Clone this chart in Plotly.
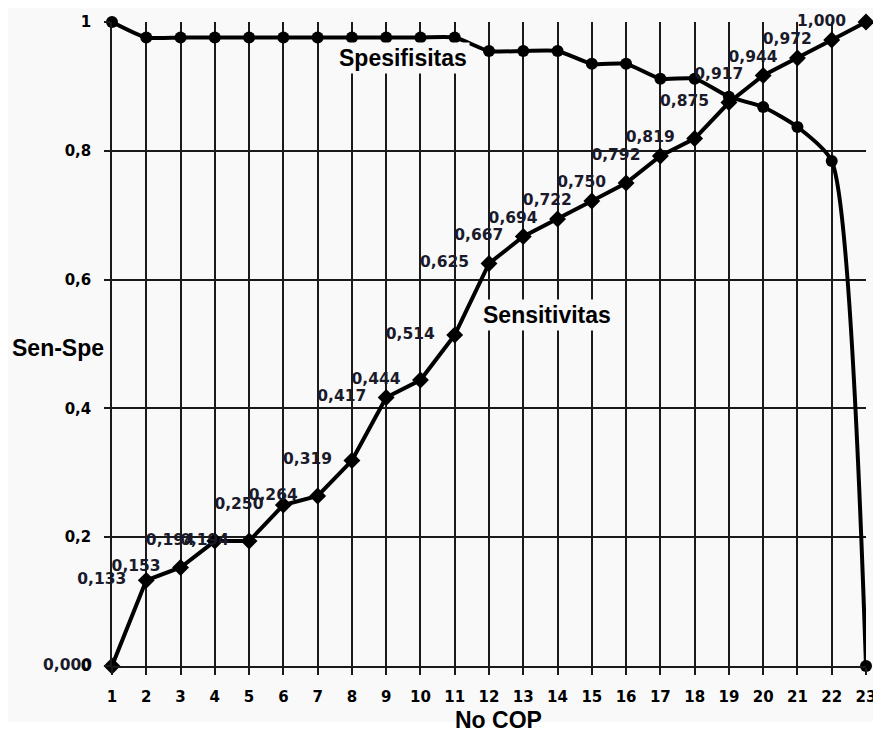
import plotly.graph_objects as go

cop = list(range(1, 24))
sensitivitas = [0.000, 0.133, 0.153, 0.194, 0.194, 0.250, 0.264, 0.319, 0.417, 0.444,
                0.514, 0.625, 0.667, 0.694, 0.722, 0.750, 0.792, 0.819, 0.875, 0.917,
                0.944, 0.972, 1.000]
spesifisitas = [1.000, 0.976, 0.976, 0.976, 0.976, 0.976, 0.976, 0.976, 0.976, 0.976,
                0.976, 0.955, 0.955, 0.955, 0.935, 0.935, 0.912, 0.912, 0.884, 0.868,
                0.837, 0.784, 0.000]
y_ticks = [0, 0.2, 0.4, 0.6, 0.8, 1]

BG = "#f9f9f9"
GRID = "#1a1a1a"

fig = go.Figure()

fig.add_trace(go.Scatter(
    x=cop, y=spesifisitas, mode="lines+markers", name="Spesifisitas",
    line=dict(color="black", width=4, shape="spline", smoothing=0.6),
    marker=dict(symbol="circle", size=12, color="black"),
    cliponaxis=False, showlegend=False,
))

fig.add_trace(go.Scatter(
    x=cop, y=sensitivitas, mode="lines+markers+text", name="Sensitivitas",
    line=dict(color="black", width=4),
    marker=dict(symbol="diamond", size=13, color="black"),
    texttemplate="%{y:.3f}\u00a0\u00a0", textposition="middle left",
    textfont=dict(family="DejaVu Sans", size=15.5, color="#1a1a2a", weight=600),
    cliponaxis=False, showlegend=False,
))

fig.update_layout(
    width=873, height=723,
    margin=dict(l=104, r=5, t=14, b=65),
    paper_bgcolor="white",
    plot_bgcolor=BG,
    separators=",.",
    font=dict(family="DejaVu Sans", color="black"),
    xaxis=dict(
        range=[1, 23], tickmode="array", tickvals=cop,
        showgrid=True, gridcolor=GRID, gridwidth=1.5,
        showline=True, linecolor=GRID, linewidth=1.5,
        zeroline=False,
        ticks="outside", ticklen=7, tickwidth=1.5, tickcolor=GRID,
        tickfont=dict(family="DejaVu Sans", size=15, color="black", weight="bold"),
        ticklabelstandoff=9, ticklabeloverflow="allow",
    ),
    yaxis=dict(
        range=[0, 1], tickmode="array", tickvals=y_ticks,
        showgrid=True, gridcolor=GRID, gridwidth=1.5,
        showline=True, linecolor=GRID, linewidth=1.5,
        zeroline=False,
        ticks="outside", ticklen=6, tickwidth=1.5, tickcolor=GRID,
        tickfont=dict(family="DejaVu Sans", size=15, color="black", weight="bold"),
        ticklabelstandoff=10,
    ),
    shapes=[dict(type="rect", xref="paper", yref="paper",
                 x0=-0.3, x1=1.1, y0=-0.087, y1=1.1,
                 fillcolor=BG, line=dict(width=0), layer="below")],
    annotations=[
        dict(x=9.5, y=0.944, xref="x", yref="y", text="Spesifisitas", showarrow=False,
             font=dict(family="Liberation Sans", size=23, color="black", weight="bold"),
             bgcolor=BG, borderpad=2),
        dict(x=13.68, y=0.545, xref="x", yref="y", text="Sensitivitas", showarrow=False,
             font=dict(family="Liberation Sans", size=23, color="black", weight="bold"),
             bgcolor=BG, borderpad=2),
        dict(x=-0.0713, y=0.494, xref="paper", yref="paper", text="Sen-Spe", showarrow=False,
             xanchor="center", yanchor="middle",
             font=dict(family="Liberation Sans", size=23, color="black", weight="bold")),
        dict(x=0.512, y=-0.0839, xref="paper", yref="paper", text="No COP", showarrow=False,
             xanchor="center", yanchor="middle",
             font=dict(family="Liberation Sans", size=23, color="black", weight="bold")),
    ],
)

fig.write_html("out.html")
